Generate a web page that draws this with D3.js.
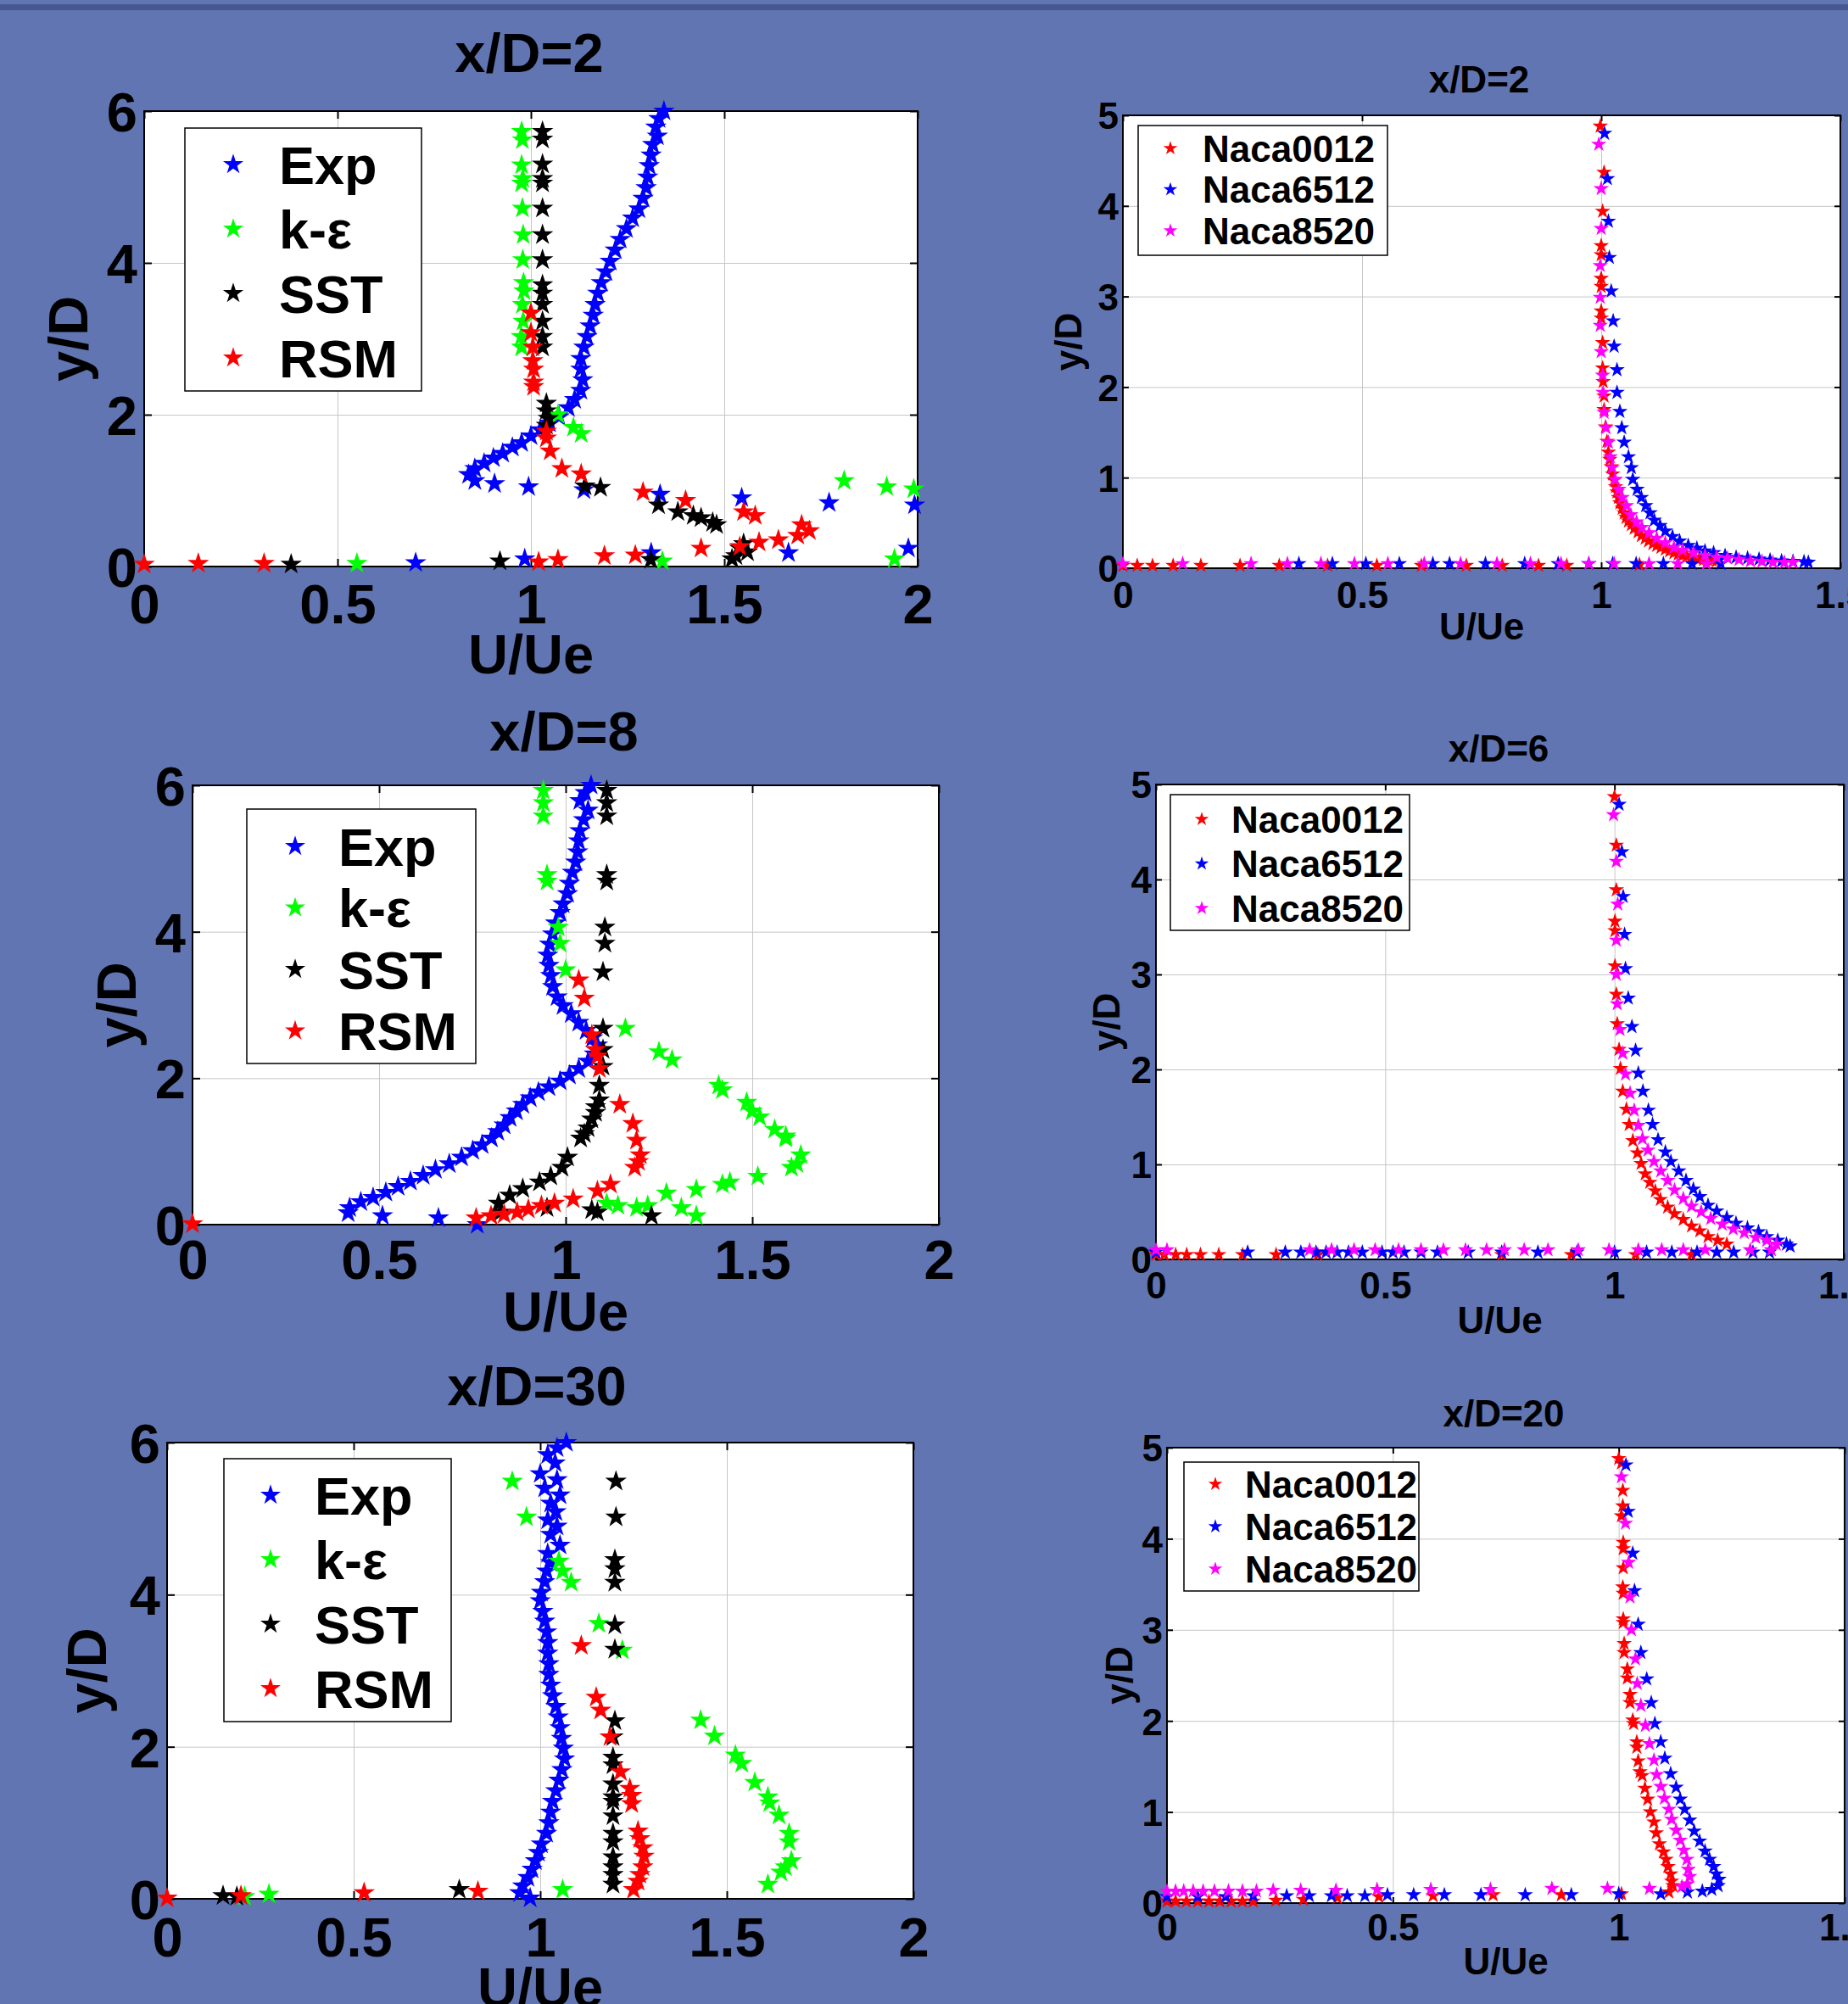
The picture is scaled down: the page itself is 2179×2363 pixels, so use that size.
<!DOCTYPE html>
<html>
<head>
<meta charset="utf-8">
<script src="https://cdn.jsdelivr.net/npm/d3@7"></script>
<style>
  body { margin: 0; background: #6175b3; }
  svg text { font-family: "Liberation Sans", Arial, sans-serif; font-weight: bold; fill: #000; }
</style>
</head>
<body>
<svg id="fig" width="2179" height="2363"></svg>
<script>
// ---- categories / ticks ----
const leftNames = ['Exp', 'k-ε', 'SST', 'RSM'];
const rightNames = ['Naca0012', 'Naca6512', 'Naca8520'];
const leftXTicks = [0, 0.5, 1, 1.5, 2];
const leftYTicks = [0, 2, 4, 6];
const rightXTicks = [0, 0.5, 1, 1.5];
const rightYTicks = [0, 1, 2, 3, 4, 5];

// ---- x/D=2 (left) : [U/Ue, y/D] ----
const l1Exp = [[1.344,6.00],[1.331,5.90],[1.323,5.79],[1.327,5.67],[1.315,5.56],[1.311,5.42],[1.306,5.28],[1.302,5.13],[1.298,4.99],[1.290,4.85],[1.279,4.71],[1.263,4.59],[1.247,4.45],[1.231,4.31],[1.218,4.17],[1.205,4.02],[1.194,3.88],[1.182,3.74],[1.173,3.60],[1.166,3.45],[1.161,3.31],[1.153,3.17],[1.145,3.03],[1.137,2.89],[1.129,2.74],[1.129,2.60],[1.134,2.46],[1.129,2.32],[1.113,2.20],[1.097,2.09],[1.073,1.97],[1.048,1.89],[1.024,1.80],[1.000,1.72],[0.976,1.63],[0.952,1.57],[0.927,1.49],[0.903,1.43],[0.879,1.36],[0.855,1.29],[0.839,1.21],[0.855,1.13],[0.906,1.09],[0.994,1.05],[1.137,1.01],[1.334,0.95],[1.545,0.905],[1.771,0.84],[1.992,0.81],[1.976,0.24],[1.666,0.18],[1.311,0.18],[0.984,0.10],[0.702,0.05]];
const l1Ke = [[0.976,5.73],[0.978,5.62],[0.976,5.29],[0.979,5.11],[0.976,5.05],[0.978,4.72],[0.980,4.37],[0.979,4.04],[0.981,3.74],[0.982,3.63],[0.978,3.45],[0.980,3.23],[0.975,3.03],[0.976,2.89],[1.07,2.00],[1.11,1.83],[1.13,1.75],[1.81,1.13],[1.92,1.05],[1.99,1.02],[1.94,0.10],[1.34,0.07],[0.55,0.04]];
const l1Sst = [[1.03,5.73],[1.03,5.63],[1.03,5.30],[1.03,5.11],[1.03,5.05],[1.03,4.72],[1.03,4.37],[1.03,4.04],[1.03,3.71],[1.03,3.60],[1.03,3.45],[1.03,3.23],[1.03,3.03],[1.03,2.89],[1.04,2.15],[1.04,2.05],[1.045,1.95],[1.04,1.86],[1.14,1.06],[1.18,1.04],[1.33,0.81],[1.38,0.72],[1.42,0.67],[1.44,0.64],[1.47,0.58],[1.48,0.55],[1.55,0.30],[1.54,0.24],[1.56,0.19],[1.53,0.14],[1.52,0.10],[1.31,0.09],[0.92,0.07],[0.38,0.03]];
const l1Rsm = [[1.00,3.34],[1.00,3.08],[1.005,2.89],[1.005,2.71],[1.007,2.60],[1.007,2.43],[1.007,2.37],[1.04,1.78],[1.04,1.69],[1.05,1.52],[1.08,1.29],[1.13,1.22],[1.29,0.98],[1.40,0.87],[1.55,0.72],[1.58,0.67],[1.70,0.55],[1.72,0.47],[1.69,0.41],[1.64,0.35],[1.59,0.32],[1.54,0.26],[1.44,0.24],[1.27,0.15],[1.19,0.14],[1.07,0.09],[1.02,0.06],[0.31,0.04],[0.14,0.04],[0.0,0.03]];

// ---- x/D=8 (left) ----
const l2Exp = [[1.068,6.00],[1.052,5.90],[1.038,5.79],[1.060,5.66],[1.048,5.53],[1.038,5.38],[1.035,5.24],[1.032,5.09],[1.027,4.95],[1.018,4.81],[1.010,4.66],[1.005,4.52],[0.993,4.38],[0.985,4.26],[0.973,4.12],[0.965,3.97],[0.957,3.83],[0.952,3.68],[0.955,3.54],[0.960,3.40],[0.965,3.25],[0.977,3.11],[0.993,2.99],[1.015,2.88],[1.035,2.76],[1.055,2.65],[1.072,2.55],[1.085,2.45],[1.077,2.33],[1.060,2.23],[1.035,2.13],[1.010,2.04],[0.985,1.96],[0.955,1.88],[0.927,1.81],[0.905,1.73],[0.885,1.64],[0.868,1.55],[0.851,1.46],[0.835,1.36],[0.818,1.27],[0.801,1.18],[0.776,1.09],[0.751,1.01],[0.721,0.92],[0.688,0.83],[0.651,0.75],[0.618,0.67],[0.584,0.59],[0.551,0.52],[0.518,0.44],[0.484,0.37],[0.451,0.31],[0.421,0.23],[0.417,0.16],[0.509,0.12],[0.659,0.09],[0.763,0.00]];
const l2Ke = [[0.94,5.93],[0.94,5.76],[0.94,5.58],[0.95,4.78],[0.95,4.69],[0.98,4.06],[0.985,3.84],[1.00,3.48],[1.16,2.68],[1.25,2.36],[1.285,2.25],[1.41,1.90],[1.42,1.84],[1.485,1.67],[1.50,1.55],[1.52,1.47],[1.56,1.30],[1.59,1.21],[1.59,1.18],[1.63,0.95],[1.62,0.83],[1.605,0.78],[1.515,0.66],[1.44,0.58],[1.42,0.55],[1.35,0.48],[1.27,0.43],[1.31,0.23],[1.35,0.12],[1.22,0.26],[1.19,0.23],[1.14,0.26],[1.11,0.29]];
const l2Sst = [[1.11,5.93],[1.11,5.76],[1.11,5.58],[1.11,4.78],[1.11,4.69],[1.105,4.06],[1.105,3.84],[1.10,3.45],[1.10,2.68],[1.10,2.39],[1.10,2.16],[1.09,1.90],[1.09,1.70],[1.08,1.61],[1.08,1.53],[1.07,1.44],[1.06,1.32],[1.05,1.24],[1.04,1.18],[1.005,0.92],[0.99,0.78],[0.96,0.66],[0.93,0.58],[0.885,0.49],[0.85,0.40],[0.82,0.29],[0.825,0.17],[0.95,0.23],[1.07,0.20],[1.085,0.17],[1.23,0.12]];
const l2Rsm = [[1.035,3.34],[1.05,3.09],[1.07,2.59],[1.08,2.39],[1.085,2.30],[1.09,2.13],[1.145,1.64],[1.18,1.38],[1.19,1.15],[1.20,0.95],[1.195,0.86],[1.185,0.78],[1.12,0.55],[1.085,0.46],[1.02,0.35],[0.97,0.29],[0.935,0.26],[0.90,0.21],[0.87,0.17],[0.835,0.14],[0.80,0.12],[0.76,0.09],[0.0,0.01]];

// ---- x/D=30 (left) ----
const l3Exp = [[1.070,6.00],[1.045,5.93],[1.020,5.84],[1.040,5.73],[1.000,5.59],[1.045,5.51],[1.012,5.40],[1.053,5.31],[1.028,5.20],[1.042,5.09],[1.020,4.98],[1.045,4.90],[1.028,4.79],[1.053,4.65],[1.020,4.54],[1.028,4.42],[1.017,4.31],[1.012,4.17],[1.003,4.03],[1.000,3.92],[1.007,3.78],[1.012,3.65],[1.017,3.51],[1.020,3.37],[1.020,3.23],[1.023,3.09],[1.023,2.95],[1.028,2.81],[1.033,2.67],[1.042,2.53],[1.048,2.39],[1.053,2.25],[1.057,2.11],[1.062,1.98],[1.065,1.84],[1.058,1.70],[1.050,1.56],[1.042,1.42],[1.033,1.28],[1.028,1.14],[1.023,1.00],[1.017,0.86],[1.003,0.72],[0.995,0.61],[0.987,0.50],[0.978,0.39],[0.967,0.28],[0.953,0.17],[0.945,0.08],[0.973,0.01]];
const l3Ke = [[0.925,5.49],[0.963,5.02],[1.05,4.44],[1.06,4.31],[1.083,4.16],[1.157,3.62],[1.22,3.27],[1.43,2.35],[1.467,2.14],[1.523,1.89],[1.54,1.78],[1.575,1.53],[1.61,1.34],[1.615,1.26],[1.64,1.10],[1.667,0.86],[1.667,0.75],[1.673,0.50],[1.657,0.42],[1.645,0.35],[1.61,0.19],[1.06,0.12],[0.273,0.06],[0.208,0.03]];
const l3Sst = [[1.203,5.49],[1.203,5.02],[1.20,4.46],[1.20,4.34],[1.20,4.16],[1.20,3.60],[1.20,3.28],[1.20,2.34],[1.195,2.13],[1.195,1.86],[1.195,1.76],[1.195,1.51],[1.195,1.34],[1.195,1.28],[1.195,1.09],[1.195,0.86],[1.195,0.75],[1.195,0.55],[1.195,0.42],[1.195,0.32],[1.195,0.19],[0.783,0.12],[0.15,0.04],[0.187,0.03]];
const l3Rsm = [[1.11,3.33],[1.15,2.65],[1.162,2.48],[1.187,2.13],[1.215,1.67],[1.24,1.45],[1.245,1.36],[1.245,1.25],[1.262,0.89],[1.267,0.79],[1.275,0.67],[1.278,0.56],[1.275,0.42],[1.267,0.32],[1.262,0.23],[1.25,0.12],[0.833,0.10],[0.528,0.08],[0.198,0.04],[0.0,0.01]];

// ---- x/D=2 (right) ----
const r1N0012 = [[0.998,4.88],[1.006,4.37],[1.003,3.94],[1.0,3.56],[1.0,3.46],[1.0,3.20],[1.0,3.11],[1.0,2.84],[1.0,2.76],[1.003,2.49],[1.003,2.21],[1.004,2.06],[1.006,1.90],[1.006,1.75],[1.009,1.56],[1.012,1.40],[1.015,1.28],[1.018,1.20],[1.021,1.12],[1.024,1.04],[1.027,0.97],[1.030,0.90],[1.033,0.84],[1.036,0.78],[1.039,0.72],[1.044,0.66],[1.048,0.61],[1.052,0.56],[1.057,0.52],[1.063,0.48],[1.069,0.44],[1.077,0.40],[1.084,0.36],[1.092,0.33],[1.099,0.30],[1.108,0.27],[1.116,0.25],[1.125,0.23],[1.134,0.21],[1.143,0.19],[1.152,0.17],[1.161,0.155],[1.17,0.14],[1.179,0.13],[1.188,0.12],[1.197,0.11],[1.205,0.10],[1.214,0.095],[1.223,0.09],[1.232,0.085],[1.241,0.08],[0,0.03],[0.03,0.03],[0.062,0.03],[0.105,0.03],[0.163,0.03],[0.245,0.03],[0.327,0.03],[0.428,0.03],[0.531,0.03],[0.624,0.03],[0.718,0.03],[0.793,0.03],[0.869,0.03],[0.928,0.03],[1.08,0.04]];
const r1N6512 = [[1.007,4.80],[1.013,4.30],[1.015,3.83],[1.017,3.43],[1.021,3.06],[1.025,2.73],[1.027,2.45],[1.033,2.19],[1.033,1.94],[1.039,1.73],[1.043,1.55],[1.048,1.39],[1.057,1.23],[1.063,1.11],[1.066,0.98],[1.075,0.87],[1.084,0.78],[1.093,0.69],[1.102,0.61],[1.111,0.53],[1.123,0.47],[1.134,0.41],[1.149,0.35],[1.164,0.30],[1.182,0.25],[1.200,0.22],[1.217,0.19],[1.235,0.17],[1.259,0.14],[1.282,0.12],[1.306,0.11],[1.330,0.10],[1.353,0.09],[1.377,0.08],[1.401,0.075],[1.424,0.07],[1.433,0.065],[0.368,0.05],[0.438,0.05],[0.508,0.05],[0.578,0.05],[0.648,0.05],[0.683,0.05],[0.758,0.05],[0.84,0.05],[0.91,0.05],[0.974,0.05],[1.024,0.05],[1.073,0.05],[1.13,0.05],[1.19,0.05],[1.25,0.05]];
const r1N8520 = [[0.995,4.68],[1.0,4.19],[1.0,3.75],[0.998,3.34],[0.998,2.99],[0.998,2.68],[1.0,2.39],[1.003,2.13],[1.004,1.94],[1.006,1.72],[1.010,1.55],[1.015,1.39],[1.019,1.23],[1.023,1.11],[1.029,0.98],[1.037,0.87],[1.044,0.78],[1.053,0.69],[1.062,0.59],[1.074,0.51],[1.085,0.45],[1.100,0.39],[1.116,0.33],[1.134,0.28],[1.152,0.23],[1.170,0.20],[1.193,0.17],[1.217,0.14],[1.241,0.12],[1.264,0.11],[1.288,0.095],[1.312,0.08],[1.336,0.075],[1.359,0.065],[1.383,0.065],[1.401,0.065],[0,0.05],[0.125,0.05],[0.268,0.05],[0.344,0.05],[0.414,0.05],[0.484,0.05],[0.554,0.05],[0.63,0.05],[0.706,0.05],[0.782,0.05],[0.852,0.05],[0.916,0.05],[0.974,0.05],[1.027,0.05],[1.10,0.05],[1.16,0.05],[1.22,0.05]];

// ---- x/D=6 (right) ----
const r2N0012 = [[1.0,4.87],[1.004,4.36],[1.004,3.89],[1.001,3.56],[1.001,3.46],[1.001,3.09],[1.004,2.79],[1.006,2.48],[1.01,2.21],[1.013,2.01],[1.018,1.77],[1.026,1.58],[1.032,1.42],[1.04,1.25],[1.05,1.12],[1.058,1.01],[1.067,0.90],[1.077,0.81],[1.089,0.72],[1.10,0.63],[1.116,0.55],[1.131,0.48],[1.15,0.42],[1.168,0.35],[1.186,0.30],[1.204,0.24],[1.225,0.20],[1.245,0.16],[0,0.05],[0.018,0.05],[0.043,0.05],[0.067,0.05],[0.097,0.05],[0.137,0.05],[0.189,0.05],[0.262,0.05],[0.353,0.05],[0.754,0.05],[0.906,0.05],[1.046,0.05],[1.168,0.05]];
const r2N6512 = [[1.01,4.79],[1.016,4.29],[1.019,3.82],[1.022,3.42],[1.024,3.06],[1.03,2.75],[1.038,2.45],[1.046,2.20],[1.052,1.96],[1.062,1.77],[1.074,1.57],[1.083,1.42],[1.095,1.26],[1.111,1.13],[1.123,1.03],[1.14,0.93],[1.156,0.83],[1.172,0.74],[1.186,0.66],[1.204,0.57],[1.223,0.51],[1.245,0.44],[1.265,0.38],[1.29,0.33],[1.314,0.29],[1.332,0.24],[1.356,0.20],[1.375,0.16],[1.383,0.14],[0,0.075],[0.20,0.075],[0.282,0.075],[0.316,0.075],[0.349,0.075],[0.371,0.075],[0.395,0.075],[0.42,0.075],[0.45,0.075],[0.493,0.075],[0.517,0.075],[0.541,0.075],[0.578,0.075],[0.614,0.075],[0.681,0.075],[0.754,0.075],[0.833,0.075],[0.918,0.075],[1.0,0.075],[1.07,0.075],[1.125,0.075],[1.18,0.075],[1.223,0.075],[1.26,0.075],[1.302,0.075],[1.338,0.075]];
const r2N8520 = [[0.998,4.68],[1.004,4.19],[1.007,3.74],[1.004,3.36],[1.004,3.0],[1.006,2.69],[1.012,2.42],[1.018,2.17],[1.024,1.95],[1.034,1.75],[1.043,1.57],[1.052,1.41],[1.061,1.27],[1.073,1.15],[1.086,1.03],[1.101,0.93],[1.116,0.83],[1.131,0.73],[1.15,0.64],[1.168,0.56],[1.189,0.50],[1.21,0.43],[1.235,0.37],[1.259,0.32],[1.283,0.28],[1.308,0.23],[1.332,0.20],[1.353,0.16],[0,0.1],[0.024,0.1],[0.335,0.1],[0.383,0.1],[0.432,0.1],[0.478,0.1],[0.529,0.1],[0.578,0.1],[0.627,0.1],[0.675,0.1],[0.721,0.1],[0.76,0.1],[0.803,0.1],[0.855,0.1],[0.921,0.1],[0.988,0.1],[1.052,0.1],[1.103,0.1],[1.15,0.1],[1.198,0.1],[1.296,0.1],[1.342,0.1]];

// ---- x/D=20 (right) ----
const r3N0012 = [[1.0,4.88],[1.006,4.83],[1.009,4.53],[1.009,4.36],[1.006,4.25],[1.01,3.96],[1.01,3.89],[1.01,3.68],[1.009,3.47],[1.01,3.40],[1.01,3.12],[1.01,3.08],[1.012,2.85],[1.012,2.75],[1.019,2.57],[1.019,2.47],[1.025,2.29],[1.025,2.20],[1.031,2.01],[1.033,1.97],[1.04,1.77],[1.04,1.71],[1.043,1.56],[1.047,1.44],[1.052,1.40],[1.058,1.26],[1.064,1.14],[1.07,1.00],[1.078,0.89],[1.083,0.77],[1.09,0.65],[1.099,0.56],[1.105,0.48],[1.109,0.40],[1.115,0.32],[1.117,0.24],[1.12,0.19],[0,0.02],[0.019,0.02],[0.043,0.02],[0.068,0.02],[0.093,0.02],[0.117,0.02],[0.142,0.02],[0.167,0.02],[0.191,0.02],[0.241,0.03],[0.302,0.04],[0.377,0.06],[0.469,0.07],[0.589,0.08],[0.722,0.09],[0.873,0.09],[1.006,0.1],[1.111,0.12]];
const r3N6512 = [[1.016,4.81],[1.021,4.30],[1.031,3.84],[1.035,3.43],[1.043,3.06],[1.049,2.75],[1.062,2.46],[1.072,2.20],[1.08,1.97],[1.093,1.77],[1.102,1.59],[1.115,1.42],[1.127,1.27],[1.136,1.14],[1.146,1.03],[1.157,0.91],[1.167,0.79],[1.179,0.68],[1.191,0.57],[1.201,0.48],[1.21,0.40],[1.216,0.32],[1.222,0.26],[1.22,0.19],[1.206,0.15],[0,0.07],[0.068,0.07],[0.13,0.07],[0.191,0.08],[0.265,0.08],[0.315,0.08],[0.364,0.08],[0.399,0.08],[0.438,0.08],[0.488,0.09],[0.546,0.09],[0.614,0.09],[0.695,0.09],[0.793,0.09],[0.895,0.09],[1.0,0.1],[1.093,0.1],[1.152,0.12],[1.185,0.13]];
const r3N8520 = [[1.006,4.68],[1.015,4.17],[1.022,3.74],[1.025,3.36],[1.028,3.00],[1.037,2.68],[1.041,2.41],[1.049,2.17],[1.059,1.95],[1.068,1.75],[1.078,1.57],[1.084,1.41],[1.093,1.28],[1.101,1.15],[1.111,1.03],[1.117,0.92],[1.127,0.80],[1.136,0.69],[1.144,0.58],[1.151,0.48],[1.154,0.37],[1.157,0.29],[1.152,0.21],[1.14,0.18],[0,0.13],[0.019,0.13],[0.037,0.13],[0.058,0.13],[0.08,0.13],[0.105,0.13],[0.136,0.13],[0.167,0.13],[0.198,0.13],[0.235,0.14],[0.296,0.14],[0.374,0.14],[0.465,0.15],[0.584,0.15],[0.716,0.15],[0.852,0.16],[0.975,0.16],[1.068,0.16]];

// ---- layout ----
const leftColors = ['#0000ff', '#00ff00', '#000000', '#ff0000'];
const rightColors = ['#ff0000', '#0000ff', '#ff00ff'];

const panels = [
  {title: 'x/D=2', box: [170, 131, 1082, 668], xMax: 2, yMax: 6, xTicks: leftXTicks, yTicks: leftYTicks,
   series: [l1Exp, l1Ke, l1Sst, l1Rsm], names: leftNames, colors: leftColors,
   titleX: 624, titleY: 62, tickY: 712, xlabY: 771, ylabX: 80, fs: 65, msize: 200,
   legend: {x: 218, y: 151, w: 279, h: 310, row0: 43, dy: 76, mx: 57, tx: 111, fs: 63, msize: 180}},
  {title: 'x/D=8', box: [227, 926, 1107, 1444], xMax: 2, yMax: 6, xTicks: leftXTicks, yTicks: leftYTicks,
   series: [l2Exp, l2Ke, l2Sst, l2Rsm], names: leftNames, colors: leftColors,
   titleX: 665, titleY: 862, tickY: 1485, xlabY: 1546, ylabX: 137, fs: 65, msize: 200,
   legend: {x: 291, y: 954, w: 270, h: 300, row0: 44, dy: 72.5, mx: 57, tx: 108, fs: 63, msize: 180}},
  {title: 'x/D=30', box: [197, 1701, 1077, 2239], xMax: 2, yMax: 6, xTicks: leftXTicks, yTicks: leftYTicks,
   series: [l3Exp, l3Ke, l3Sst, l3Rsm], names: leftNames, colors: leftColors,
   titleX: 633, titleY: 1634, tickY: 2284, xlabY: 2343, ylabX: 102, fs: 65, msize: 200,
   legend: {x: 264, y: 1720, w: 268, h: 310, row0: 43, dy: 76, mx: 55, tx: 107, fs: 63, msize: 180}},
  {title: 'x/D=2', box: [1324, 136, 2170, 670], xMax: 1.5, yMax: 5, xTicks: rightXTicks, yTicks: rightYTicks,
   series: [r1N0012, r1N6512, r1N8520], names: rightNames, colors: rightColors,
   titleX: 1744, titleY: 93, tickY: 701, xlabY: 738, ylabX: 1259, fs: 44, msize: 105,
   legend: {x: 1342, y: 148, w: 294, h: 153, row0: 27, dy: 48.5, mx: 38, tx: 76, fs: 44, msize: 85}},
  {title: 'x/D=6', box: [1363, 925, 2174, 1485], xMax: 1.5, yMax: 5, xTicks: rightXTicks, yTicks: rightYTicks,
   series: [r2N0012, r2N6512, r2N8520], names: rightNames, colors: rightColors,
   titleX: 1767, titleY: 882, tickY: 1515, xlabY: 1556, ylabX: 1304, fs: 44, msize: 105,
   legend: {x: 1380, y: 937, w: 282, h: 160, row0: 29, dy: 52.5, mx: 37, tx: 72, fs: 44, msize: 85}},
  {title: 'x/D=20', box: [1376, 1707, 2175, 2244], xMax: 1.5, yMax: 5, xTicks: rightXTicks, yTicks: rightYTicks,
   series: [r3N0012, r3N6512, r3N8520], names: rightNames, colors: rightColors,
   titleX: 1773, titleY: 1666, tickY: 2272, xlabY: 2312, ylabX: 1319, fs: 44, msize: 105,
   legend: {x: 1396, y: 1724, w: 277, h: 152, row0: 26, dy: 50, mx: 37, tx: 72, fs: 44, msize: 85}}
];

const svg = d3.select('#fig');
svg.append('rect').attr('width', 2179).attr('height', 2363).attr('fill', '#6175b3');
svg.append('rect').attr('y', 5).attr('width', 2179).attr('height', 7).attr('fill', '#475890');

const star = d3.symbol().type(d3.symbolStar);

function drawPanel(p) {
  const [x0, y0, x1, y1] = p.box;
  const x = d3.scaleLinear().domain([0, p.xMax]).range([x0, x1]);
  const y = d3.scaleLinear().domain([0, p.yMax]).range([y1, y0]);
  const g = svg.append('g');

  g.append('rect')
    .attr('x', x0).attr('y', y0)
    .attr('width', x1 - x0).attr('height', y1 - y0)
    .attr('fill', '#fff');

  // grid + tick labels
  const pad = p.tickY - y1 - 0.35 * p.fs;
  const xAxis = g.append('g')
    .attr('transform', `translate(0,${y1})`)
    .call(d3.axisBottom(x).tickValues(p.xTicks).tickSize(-(y1 - y0)).tickPadding(pad).tickFormat(d3.format('~g')));
  const yAxis = g.append('g')
    .attr('transform', `translate(${x0},0)`)
    .call(d3.axisLeft(y).tickValues(p.yTicks).tickSize(-(x1 - x0)).tickPadding(p.fs > 50 ? 8 : 5).tickFormat(d3.format('~g')));
  [xAxis, yAxis].forEach(a => {
    a.select('.domain').remove();
    a.selectAll('.tick line').attr('stroke', '#c6c6c6').attr('stroke-width', 1);
    a.selectAll('.tick text')
      .style('font-size', p.fs + 'px')
      .style('font-family', '"Liberation Sans", Arial, sans-serif')
      .style('font-weight', 'bold')
      .attr('fill', '#000');
  });
  yAxis.selectAll('.tick text').attr('dy', '0.36em');

  // inward ticks on all four sides
  const tl = p.fs > 50 ? 9 : 7;
  const inward = [
    [d3.axisBottom(x).tickValues(p.xTicks), `translate(0,${y1})`],
    [d3.axisTop(x).tickValues(p.xTicks), `translate(0,${y0})`],
    [d3.axisLeft(y).tickValues(p.yTicks), `translate(${x0},0)`],
    [d3.axisRight(y).tickValues(p.yTicks), `translate(${x1},0)`]
  ];
  inward.forEach(([ax, tr]) => {
    const a = g.append('g').attr('transform', tr).call(ax.tickSize(-tl).tickFormat(''));
    a.select('.domain').remove();
    a.selectAll('.tick line').attr('stroke', '#000').attr('stroke-width', 2);
  });

  g.append('rect')
    .attr('x', x0).attr('y', y0)
    .attr('width', x1 - x0).attr('height', y1 - y0)
    .attr('fill', 'none').attr('stroke', '#000').attr('stroke-width', 2);

  // markers
  p.series.forEach((data, i) => {
    g.append('g').selectAll('path')
      .data(data)
      .join('path')
      .attr('d', star.size(p.msize)())
      .attr('transform', d => `translate(${x(d[0])},${y(d[1])})`)
      .attr('fill', p.colors[i]);
  });

  // labels
  g.append('text')
    .attr('x', p.titleX).attr('y', p.titleY).attr('dy', '0.36em')
    .attr('text-anchor', 'middle').style('font-size', p.fs + 'px')
    .text(p.title);
  g.append('text')
    .attr('x', (x0 + x1) / 2).attr('y', p.xlabY).attr('dy', '0.36em')
    .attr('text-anchor', 'middle').style('font-size', p.fs + 'px')
    .text('U/Ue');
  g.append('text')
    .attr('transform', `translate(${p.ylabX},${(y0 + y1) / 2}) rotate(-90)`)
    .attr('dy', '0.36em')
    .attr('text-anchor', 'middle').style('font-size', p.fs + 'px')
    .text('y/D');

  // legend
  const L = p.legend;
  const lg = g.append('g');
  lg.append('rect')
    .attr('x', L.x).attr('y', L.y).attr('width', L.w).attr('height', L.h)
    .attr('fill', '#fff').attr('stroke', '#000').attr('stroke-width', 1.5);
  p.names.forEach((name, i) => {
    const cy = L.y + L.row0 + i * L.dy;
    lg.append('path')
      .attr('d', star.size(L.msize)())
      .attr('transform', `translate(${L.x + L.mx},${cy})`)
      .attr('fill', p.colors[i]);
    lg.append('text')
      .attr('x', L.x + L.tx).attr('y', cy).attr('dy', '0.36em')
      .style('font-size', L.fs + 'px')
      .text(name);
  });
}

panels.forEach(drawPanel);
</script>
</body>
</html>
